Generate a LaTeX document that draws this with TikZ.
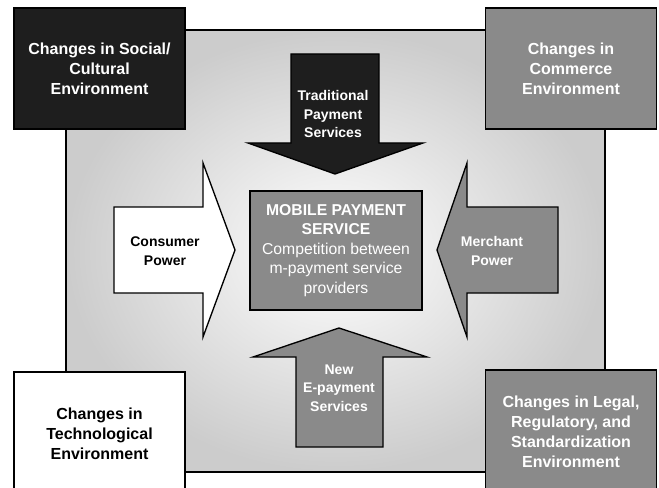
\documentclass[tikz,border=0pt]{standalone}
\usepackage{fontspec}
\setmainfont{Liberation Sans}
\definecolor{boxblack}{RGB}{30,30,30}
\definecolor{boxgray}{RGB}{138,138,138}
\tikzset{every picture/.style={line width=0.75pt}}
\tikzset{
  envbox/.style={draw, line width=1pt, minimum width=128.25pt, minimum height=90.75pt,
    align=center, font=\bfseries\fontsize{12}{15}\selectfont},
  arrowtext/.style={align=center, inner sep=0.75pt, font=\bfseries\fontsize{10.5}{13.9}\selectfont}
}
\begin{document}
\begin{tikzpicture}[x=0.75pt,y=0.75pt,yscale=-1,xscale=1]
\useasboundingbox (0,0) rectangle (659,488);
\clip (0,0) rectangle (659,488);

%Shape: Square [id:background]
\draw [line width=1pt, inner color=white, outer color=gray!40] (66,30) -- (605,30) -- (605,472) -- (66,472) -- cycle ;

%Shape: Polygon [id:traditional]
\draw [line width=1pt, fill=boxblack] (291,54) -- (379,54) -- (379,143) -- (423,143) -- (335,174) -- (248,143) -- (291,143) -- cycle ;
%Shape: Polygon [id:consumer]
\draw [line width=1pt, fill=white] (114,207) -- (203,207) -- (203,163) -- (235,250) -- (203,337) -- (203,293) -- (114,293) -- cycle ;
%Shape: Polygon [id:merchant]
\draw [line width=1pt, fill=boxgray] (558,207) -- (467,207) -- (467,163) -- (437,250) -- (467,337) -- (467,293) -- (558,293) -- cycle ;
%Shape: Polygon [id:newpay]
\draw [line width=1pt, fill=boxgray] (296,447) -- (383,447) -- (383,357) -- (427,357) -- (339,328) -- (253,357) -- (296,357) -- cycle ;

%Shape: Rectangle [id:social]
\node (social) [envbox, fill=boxblack, text=white] at (99.5,68.5) {Changes in Social/\\Cultural\\Environment};
%Shape: Rectangle [id:commerce]
\node (commerce) [envbox, fill=boxgray, text=white] at (571,68.5) {Changes in\\Commerce\\Environment};
%Shape: Rectangle [id:techno]
\node (techno) [envbox, fill=white, minimum height=93pt] at (99.5,434) {Changes in\\Technological\\Environment};
%Shape: Rectangle [id:legal]
\node (legal) [envbox, fill=boxgray, text=white, minimum height=93pt] at (571,432) {Changes in Legal,\\Regulatory, and\\Standardization\\Environment};

%Shape: Rectangle [id:mobile]
\node (mobile) [draw, line width=1pt, fill=boxgray, text=white, minimum width=129pt, minimum height=89.25pt,
  align=center, font=\fontsize{11.8}{14.6}\selectfont] at (336,250.5)
  {\textbf{MOBILE PAYMENT}\\\textbf{SERVICE}\\Competition between\\m-payment service\\providers};

% Text Node
\node (tradtext) [arrowtext, text=white] at (333,114) {Traditional\\Payment\\Services};
% Text Node
\node (constext) [arrowtext] at (165,251) {Consumer\\Power};
% Text Node
\node (merctext) [arrowtext, text=white] at (492,251) {Merchant\\Power};
% Text Node
\node (newtext) [arrowtext, text=white] at (339,388) {New\\E-payment\\Services};

\end{tikzpicture}
\end{document}
